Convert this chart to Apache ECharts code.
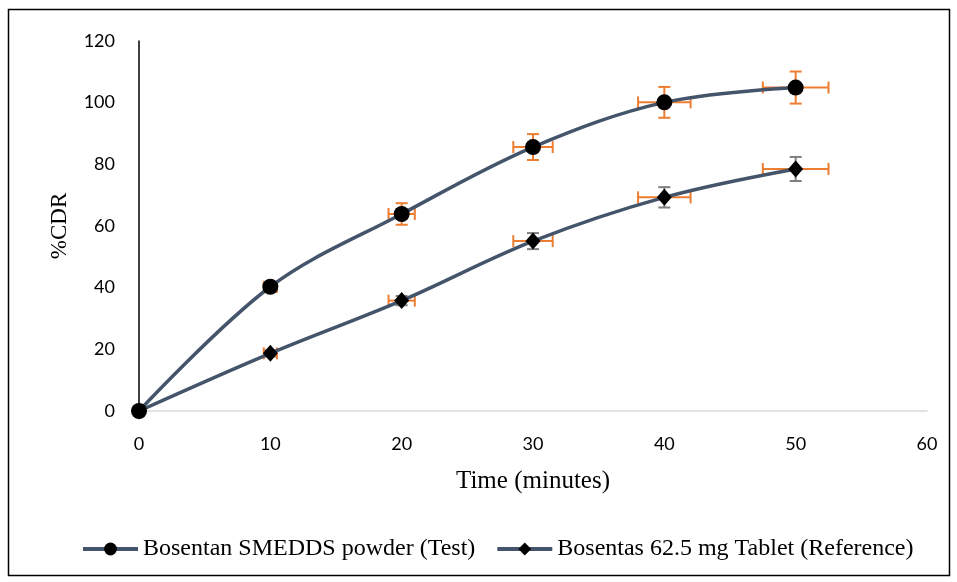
<!DOCTYPE html>
<html>
<head>
<meta charset="utf-8">
<script src="https://cdn.jsdelivr.net/npm/echarts@6/dist/echarts.min.js"></script>
<style>
  html, body { margin: 0; padding: 0; background: #fff; }
  #chart { width: 957px; height: 582px; }
</style>
</head>
<body>
<div id="chart"></div>
<script>
// time points (minutes)
const times = [0, 10, 20, 30, 40, 50];

// Bosentan SMEDDS powder (Test)
const testCdr = [0, 40.3, 63.9, 85.6, 100.1, 104.9];
const testErrY = [0, 1, 3.5, 4.2, 5, 5.2];
const testErrX = [0, 0.5, 1, 1.5, 2, 2.5];

// Bosentas 62.5 mg Tablet (Reference)
const refCdr = [0, 18.7, 35.8, 55.1, 69.3, 78.5];
const refErrY = [0, 1, 1.5, 2.6, 3.3, 3.9];
const refErrX = [0, 0.5, 1, 1.5, 2, 2.5];

const testName = 'Bosentan SMEDDS powder (Test)';
const refName = 'Bosentas 62.5 mg Tablet (Reference)';

const lineColor = '#44546A';
const orange = '#ED7D31';
const gray = '#7F7F7F';

function errData(ys, ex, ey) {
    return times.map((t, i) => [t, ys[i], ex[i], ey[i]]);
}

function errRender(colorY, colorX) {
    return function (params, api) {
        const x = api.value(0), y = api.value(1), dx = api.value(2), dy = api.value(3);
        if (!dx && !dy) return null;
        const c = api.coord([x, y]);
        const top = api.coord([x, y + dy]), bot = api.coord([x, y - dy]);
        const lft = api.coord([x - dx, y]), rgt = api.coord([x + dx, y]);
        const cap = 6;
        const sy = { stroke: colorY, lineWidth: 2 };
        const sx = { stroke: colorX, lineWidth: 2 };
        const line = (x1, y1, x2, y2, st) => ({ type: 'line', shape: { x1, y1, x2, y2 }, style: st });
        return {
            type: 'group',
            children: [
                line(c[0], top[1], c[0], bot[1], sy),
                line(c[0] - cap, top[1], c[0] + cap, top[1], sy),
                line(c[0] - cap, bot[1], c[0] + cap, bot[1], sy),
                line(lft[0], c[1], rgt[0], c[1], sx),
                line(lft[0], c[1] - cap, lft[0], c[1] + cap, sx),
                line(rgt[0], c[1] - cap, rgt[0], c[1] + cap, sx)
            ]
        };
    };
}

const myChart = echarts.init(document.getElementById('chart'));
const serif = 'Liberation Serif, Times New Roman, serif';
const option = {
    backgroundColor: '#fff',
    animation: false,
    graphic: [{
        type: 'rect',
        shape: { x: 8.5, y: 9.5, width: 941, height: 566 },
        style: { fill: 'none', stroke: '#000', lineWidth: 1.5 },
        silent: true
    }],
    grid: { left: 139, right: 30, top: 41, bottom: 171 },
    legend: {
        bottom: 16,
        left: 76,
        itemWidth: 55,
        itemHeight: 16,
        itemGap: 20,
        data: [testName, refName],
        lineStyle: { width: 4 },
        textStyle: { fontFamily: serif, fontSize: 24, color: '#000' }
    },
    xAxis: {
        type: 'value',
        min: 0, max: 60, interval: 10,
        name: 'Time (minutes)',
        nameLocation: 'middle',
        nameGap: 58,
        nameTextStyle: { fontFamily: serif, fontSize: 25, color: '#000' },
        axisLine: { lineStyle: { color: '#D9D9D9', width: 1.5 } },
        axisTick: { show: false },
        splitLine: { show: false },
        axisLabel: { fontFamily: 'Lato', fontSize: 18, color: '#000', margin: 24 }
    },
    yAxis: {
        type: 'value',
        min: 0, max: 120, interval: 20,
        name: '%CDR',
        nameLocation: 'middle',
        nameGap: 68,
        nameTextStyle: { fontFamily: serif, fontSize: 23, color: '#000' },
        axisLine: { show: true, lineStyle: { color: '#000', width: 1.5 } },
        axisTick: { show: false },
        splitLine: { show: false },
        axisLabel: { fontFamily: 'Lato', fontSize: 18, color: '#000', margin: 24 }
    },
    series: [
        {
            type: 'custom',
            name: 'errTest',
            renderItem: errRender(orange, orange),
            data: errData(testCdr, testErrX, testErrY),
            z: 1,
            silent: true
        },
        {
            type: 'custom',
            name: 'errRef',
            renderItem: errRender(gray, orange),
            data: errData(refCdr, refErrX, refErrY),
            z: 1,
            silent: true
        },
        {
            name: testName,
            type: 'line',
            smooth: 0.35,
            data: times.map((t, i) => [t, testCdr[i]]),
            symbol: 'circle',
            symbolSize: 16,
            itemStyle: { color: '#000' },
            lineStyle: { color: lineColor, width: 3.5 },
            z: 3
        },
        {
            name: refName,
            type: 'line',
            smooth: 0.35,
            data: times.map((t, i) => [t, refCdr[i]]),
            symbol: 'diamond',
            symbolSize: [15, 17],
            itemStyle: { color: '#000' },
            lineStyle: { color: lineColor, width: 3.5 },
            z: 3
        }
    ]
};
myChart.setOption(option);
</script>
</body>
</html>
